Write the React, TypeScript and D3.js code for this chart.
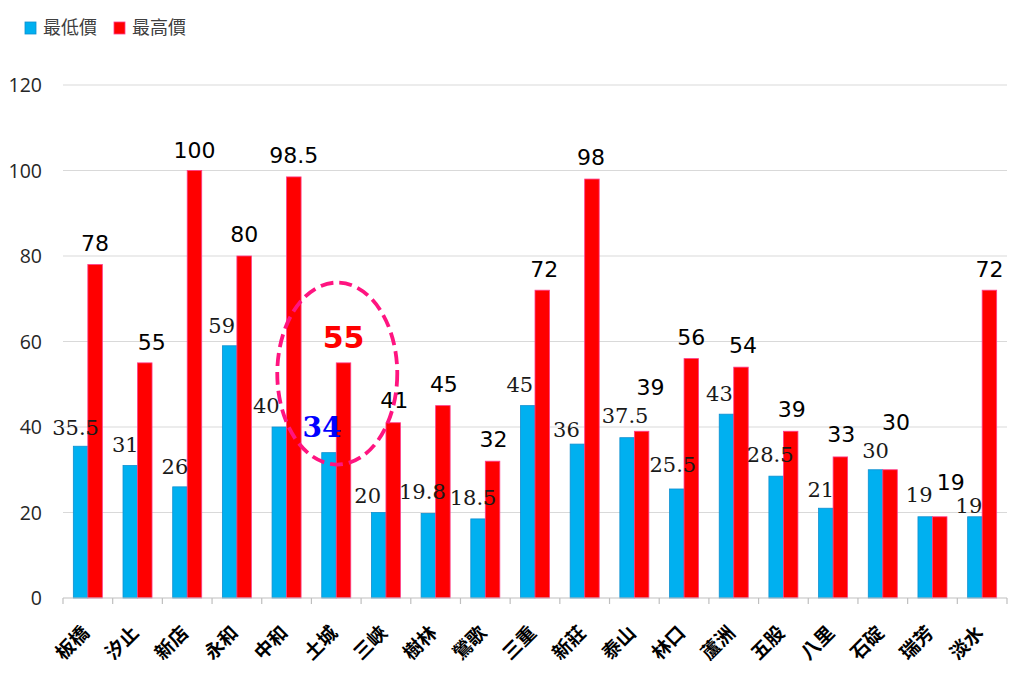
import React from "react";
import * as d3 from "d3";

const categories = ["板橋", "汐止", "新店", "永和", "中和", "土城", "三峽", "樹林", "鶯歌", "三重", "新莊", "泰山", "林口", "蘆洲", "五股", "八里", "石碇", "瑞芳", "淡水"];
const lowPrices = [35.5, 31, 26, 59, 40, 34, 20, 19.8, 18.5, 45, 36, 37.5, 25.5, 43, 28.5, 21, 30, 19, 19];
const highPrices = [78, 55, 100, 80, 98.5, 55, 41, 45, 32, 72, 98, 39, 56, 54, 39, 33, 30, 19, 72];
const yTicks = [0, 20, 40, 60, 80, 100, 120];
const seriesNames = ["最低價", "最高價"];
const highlightIndex = 5;

// label nudges (pixels) relative to bar centre / bar top
const lowNudgeX = [-5, -5, -5, -8, -13, -7, -11, -6, -5, -8, -11, -2, -4, -7, -6, -5, 0, -6, -6];
const lowNudgeY = [-11, -13, -13, -13, -14, -16, -10, -14, -14, -14, -7, -15, -17, -13, -14, -11, -12, -15, -4];
const highNudgeX = [0, 7, 0, 0, 0, 0, 1, 1, 1, 2, -1, 9, 0, 2, 1, 1, 6, 11, 0];
const highNudgeY = [-14, -13, -13, -14, -14, -15, -15, -14, -14, -13, -14, -36, -14, -14, -14, -15, -40, -27, -13];

const W = 1024;
const H = 677;
const left = 63;
const right = 1007;
const top = 85;
const bottom = 598;

const BLUE = "#00b0f0";
const BLUE_EDGE = "#0e8fd0";
const RED = "#ff0000";
const RED_EDGE = "#ff3d8b";

export default function App() {
  const x = d3.scaleBand<string>().domain(categories).range([left, right]).paddingInner(0).paddingOuter(0);
  const y = d3.scaleLinear().domain([0, 120]).range([bottom, top]);
  const bw = x.bandwidth() * 0.292;

  const lowFont = "'DejaVu Serif', serif";
  const highFont = "Verdana, 'DejaVu Sans', sans-serif";

  return (
    <svg width={W} height={H} style={{ position: "absolute", left: 0, top: 0, background: "#fff" }}>
      {/* legend */}
      <g>
        <rect x={25} y={22} width={11} height={12} fill={BLUE} stroke={BLUE_EDGE} strokeWidth={0.8} />
        <text x={43} y={34} fontSize={18} fill="#404040" fontFamily="'Noto Sans CJK TC', sans-serif">{seriesNames[0]}</text>
        <rect x={114} y={22} width={11} height={12} fill={RED} stroke={RED_EDGE} strokeWidth={0.8} />
        <text x={132} y={34} fontSize={18} fill="#404040" fontFamily="'Noto Sans CJK TC', sans-serif">{seriesNames[1]}</text>
      </g>

      {/* gridlines & y labels */}
      {yTicks.map((t) => (
        <g key={t}>
          {t > 0 && <line x1={left} x2={right} y1={y(t)} y2={y(t)} stroke="#d9d9d9" strokeWidth={1} />}
          <text x={42} y={y(t) + 7} textAnchor="end" fontSize={19.5} fill="#262626" fontFamily="'Open Sans', sans-serif">{t}</text>
        </g>
      ))}

      {/* bars */}
      {categories.map((c, i) => {
        const cx = (x(c) as number) + x.bandwidth() / 2;
        return (
          <g key={c}>
            <rect x={cx - bw} y={y(lowPrices[i])} width={bw} height={bottom - y(lowPrices[i])} fill={BLUE} stroke={BLUE_EDGE} strokeWidth={0.8} />
            <rect x={cx} y={y(highPrices[i])} width={bw} height={bottom - y(highPrices[i])} fill={RED} stroke={RED_EDGE} strokeWidth={0.8} />
          </g>
        );
      })}

      {/* axis */}
      <line x1={left} x2={right} y1={bottom} y2={bottom} stroke="#bfbfbf" strokeWidth={1.2} />
      {d3.range(categories.length + 1).map((k) => {
        const xx = left + k * x.step();
        return <line key={k} x1={xx} x2={xx} y1={bottom} y2={bottom + 6} stroke="#bfbfbf" strokeWidth={1.2} />;
      })}

      {/* category labels */}
      {categories.map((c) => {
        const cx = (x(c) as number) + x.bandwidth() / 2 + 2.5;
        return (
          <text key={c} transform={`translate(${cx},${bottom + 36}) rotate(-45)`} textAnchor="end" fontSize={19} fontWeight="bold" fill="#000" fontFamily="'Noto Sans CJK TC', sans-serif">
            {c}
          </text>
        );
      })}

      {/* data labels */}
      {categories.map((c, i) => {
        const cx = (x(c) as number) + x.bandwidth() / 2;
        const lowX = cx - bw / 2 + lowNudgeX[i];
        const lowY = y(lowPrices[i]) + lowNudgeY[i];
        const highX = cx + bw / 2 + highNudgeX[i];
        const highY = y(highPrices[i]) + highNudgeY[i];
        const hl = i === highlightIndex;
        return (
          <g key={c}>
            <text x={lowX} y={lowY} textAnchor="middle" fontSize={hl ? 28 : 21} fontWeight={hl ? "bold" : "normal"} fill={hl ? "#0000ff" : "#1a1a1a"} fontFamily={lowFont}>
              {lowPrices[i]}
            </text>
            <text x={highX} y={highY} textAnchor="middle" fontSize={hl ? 30 : 22} fontWeight={hl ? "bold" : "normal"} fill={hl ? RED : "#000"} fontFamily={highFont}>
              {highPrices[i]}
            </text>
          </g>
        );
      })}

      {/* highlight ellipse */}
      {(() => {
        const cx = (x(categories[highlightIndex]) as number) + x.bandwidth() / 2 + 1;
        return (
          <ellipse cx={cx} cy={y(52.5)} rx={60} ry={91} fill="none" stroke="#ff1480" strokeWidth={3.8} strokeDasharray="13 6" />
        );
      })()}
    </svg>
  );
}
